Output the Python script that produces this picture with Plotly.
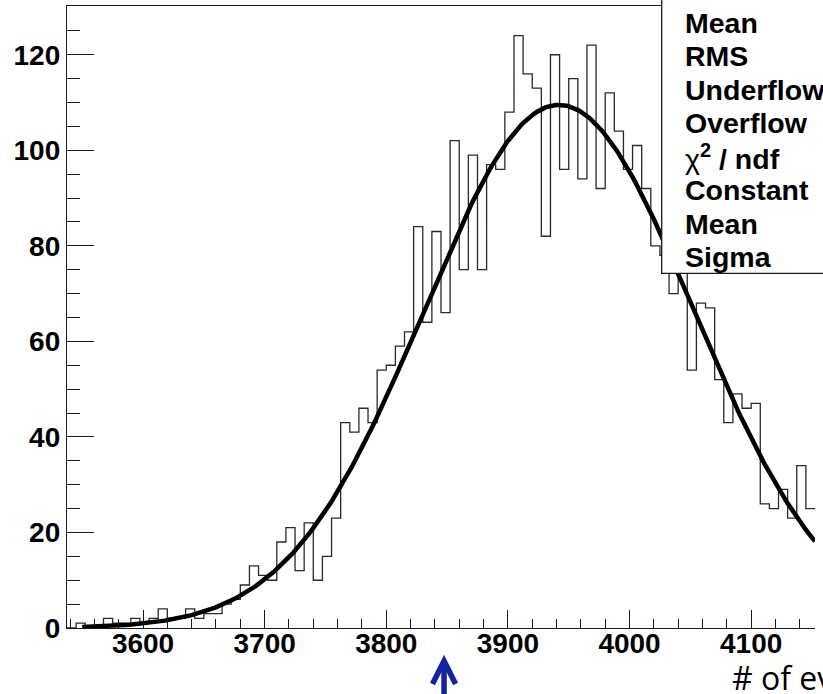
import numpy as np
import plotly.graph_objects as go

# ---- histogram: counts per bin ----
x_low = 3537.5
bin_width = 7.5
counts = [0, 1, 0, 0, 2, 1, 1, 2, 1, 2,
          4, 2, 2, 4, 2, 3, 3, 5, 6, 9,
          13, 11, 10, 18, 21, 12, 22, 10, 15, 23,
          43, 41, 46, 43, 54, 55, 59, 62, 84, 64,
          83, 66, 102, 75, 99, 75, 97, 96, 108, 124,
          116, 113, 82, 120, 96, 115, 94, 122, 92, 112,
          104, 96, 101, 92, 80, 78, 70, 76, 54, 68,
          67, 52, 43, 49, 46, 47, 26, 25, 29, 23,
          34, 25]
edges = x_low + bin_width * np.arange(len(counts) + 1)
x_high = edges[-1]

# ---- gaussian fit parameters ----
fit_constant = 109.5
fit_mean = 3942.0
fit_sigma = 111.0
fit_start = 3550.0

# ---- stats box rows ----
stat_labels = ["<b>Mean</b>", "<b>RMS</b>", "<b>Underflow</b>", "<b>Overflow</b>",
               "χ<b><sup>2</sup> / ndf</b>", "<b>Constant</b>", "<b>Mean</b>", "<b>Sigma</b>"]

y_max = 1.05 * max(counts)
axis_color = "#1a1a1a"
label_font = dict(family="Liberation Sans, Arial, Helvetica", size=28, color="black", weight="bold")

fig = go.Figure()

# step outline of the histogram
step_x = list(edges[:-1]) + [edges[-1]]
step_y = list(counts) + [counts[-1]]
fig.add_trace(go.Scatter(x=step_x, y=step_y, mode="lines", line_shape="hv",
                         line=dict(color="#2a2a2a", width=1.3), hoverinfo="skip"))

# fitted gaussian
fx = np.linspace(fit_start, x_high, 400)
fy = fit_constant * np.exp(-0.5 * ((fx - fit_mean) / fit_sigma) ** 2)
fig.add_trace(go.Scatter(x=fx, y=fy, mode="lines",
                         line=dict(color="black", width=4.5), hoverinfo="skip"))

# plot area geometry (pixels) used for the paper-space placement of overlays
W, H = 823, 694
ml, mr, mt, mb = 67, 8, 6, 66
pw, ph = W - ml - mr, H - mt - mb


def px_x(px):
    return (px - ml) / pw


def px_y(py):
    return (H - mb - py) / ph


# stats box
fig.add_shape(type="rect", xref="paper", yref="paper",
              x0=px_x(661.7), x1=1.4, y0=px_y(273.3), y1=1.3,
              line=dict(color=axis_color, width=1.3), fillcolor="white", layer="above")

annotations = []
row_top, row_step = 22.7, 33.47
for i, lab in enumerate(stat_labels):
    annotations.append(dict(
        text=lab, xref="paper", yref="paper", x=px_x(683), y=px_y(row_top + i * row_step),
        xanchor="left", yanchor="middle", showarrow=False,
        font=dict(family="Liberation Sans, Arial, Helvetica", size=28.5, color="black")))

# x axis title, placed at the lower right
annotations.append(dict(
    text="# of events", xref="paper", yref="paper", x=px_x(730), y=px_y(677),
    xanchor="left", yanchor="middle", showarrow=False,
    font=dict(family="Open Sans, Noto Sans, sans-serif", size=32, color="black")))

# blue marker arrow under the axis
arrow_x = 3847.5
arrow_color = "#14249c"
tip, arm, tail = px_y(661), px_y(684), px_y(705)
fig.add_shape(type="line", xref="x", yref="paper", x0=arrow_x, x1=arrow_x,
              y0=tail, y1=px_y(664), line=dict(color=arrow_color, width=5.5), layer="above")
fig.add_shape(type="path", xref="x", yref="paper",
              path=f"M {arrow_x - 9.5},{arm} L {arrow_x},{tip} L {arrow_x + 9.5},{arm}",
              line=dict(color=arrow_color, width=5.5), layer="above")

fig.update_layout(
    width=W, height=H,
    margin=dict(l=ml, r=mr, t=mt, b=mb, pad=0),
    plot_bgcolor="white", paper_bgcolor="white",
    showlegend=False,
    annotations=annotations,
    xaxis=dict(range=[x_low, x_high], showline=True, linecolor=axis_color, linewidth=1.3,
               mirror=True, ticks="inside", ticklen=18, tickwidth=1.3, tickcolor=axis_color,
               tick0=3600, dtick=100, showgrid=False, zeroline=False, tickfont=label_font,
               ticklabelstandoff=-10,
               minor=dict(ticks="inside", ticklen=9, tickwidth=1.3, tickcolor=axis_color,
                          tick0=3600, dtick=20, showgrid=False)),
    yaxis=dict(range=[0, y_max], showline=True, linecolor=axis_color, linewidth=1.3,
               mirror=False, ticks="inside", ticklen=27, tickwidth=1.3, tickcolor=axis_color,
               tick0=0, dtick=20, showgrid=False, zeroline=False, tickfont=label_font,
               minor=dict(ticks="inside", ticklen=13, tickwidth=1.3, tickcolor=axis_color,
                          tick0=0, dtick=5, showgrid=False)),
)

fig.write_html("out.html")
